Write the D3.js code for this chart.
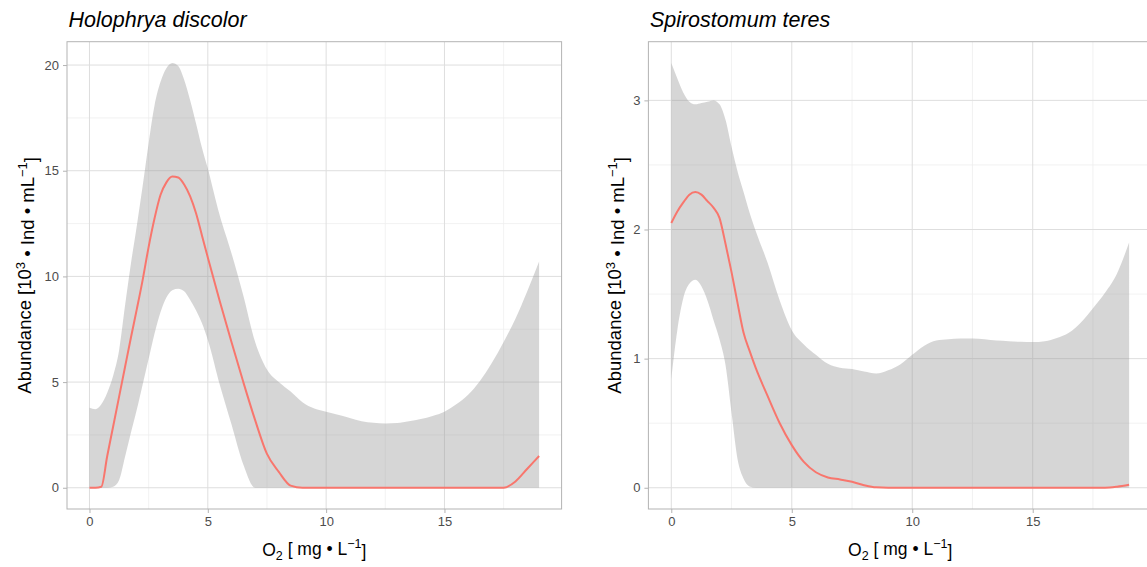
<!DOCTYPE html>
<html>
<head>
<meta charset="utf-8">
<script src="https://cdn.jsdelivr.net/npm/d3@7"></script>
<style>
  body { margin: 0; background: #fff; }
  text { font-family: "Liberation Sans", Arial, Helvetica, sans-serif; }
</style>
</head>
<body>
<div id="chart"></div>
<script>
// values (loess fit + confidence band per species)
const holoO2 = [0, 0.25, 0.5, 0.75, 1, 1.25, 1.5, 1.75, 2, 2.25, 2.5, 2.75, 3, 3.25, 3.5, 3.75, 4, 4.25, 4.5, 4.75,
  5, 5.5, 6, 6.5, 7, 7.5, 8, 8.5, 9, 9.5, 10, 10.5, 11, 11.5, 12, 12.5, 13, 13.5, 14, 14.5,
  15, 15.5, 16, 16.5, 17, 17.5, 18, 18.5, 19];
const holoFit = [0, 0, 0.05, 1.5, 2.9, 4.3, 5.7, 7.1, 8.45, 9.85, 11.4, 12.75, 13.85, 14.45, 14.73, 14.68, 14.35, 13.8, 13.0, 11.95,
  10.9, 8.85, 6.9, 5.0, 3.2, 1.6, 0.75, 0.1, 0, 0, 0, 0, 0, 0, 0, 0, 0, 0, 0, 0,
  0, 0, 0, 0, 0, 0, 0.3, 0.9, 1.5];
const holoLow = [0, 0, 0, 0, 0.05, 0.35, 1.45, 2.6, 3.7, 4.9, 6.1, 7.3, 8.3, 9.0, 9.35, 9.42, 9.3, 8.9, 8.4, 7.8,
  7.0, 4.9, 3.0, 1.1, 0, 0, 0, 0, 0, 0, 0, 0, 0, 0, 0, 0, 0, 0, 0, 0,
  0, 0, 0, 0, 0, 0, 0, 0, 0];
const holoHigh = [3.79, 3.72, 3.95, 4.5, 5.3, 6.5, 8.6, 10.6, 12.4, 14.3, 16.3, 18.1, 19.2, 19.85, 20.1, 19.95, 19.3, 18.35, 17.25, 16.1,
  15.1, 12.9, 11.1, 9.1, 6.9, 5.6, 5.0, 4.55, 4.05, 3.75, 3.6, 3.45, 3.3, 3.15, 3.07, 3.04, 3.06, 3.15, 3.25, 3.4,
  3.6, 3.95, 4.4, 5.05, 5.9, 6.9, 8.0, 9.3, 10.7];

const spiroO2 = [0, 0.25, 0.5, 0.75, 1, 1.25, 1.5, 1.75, 2, 2.25, 2.5, 2.75, 3, 3.25, 3.5, 4, 4.5, 5, 5.5, 6,
  6.5, 7, 7.5, 8, 8.5, 9, 9.5, 10, 10.5, 11, 11.5, 12, 12.5, 13, 13.5, 14, 14.5, 15, 15.5, 16,
  16.5, 17, 17.5, 18, 18.5, 19];
const spiroFit = [2.05, 2.14, 2.21, 2.27, 2.29, 2.27, 2.22, 2.17, 2.09, 1.89, 1.67, 1.43, 1.2, 1.06, 0.93, 0.71, 0.5, 0.33, 0.2, 0.12,
  0.08, 0.064, 0.046, 0.02, 0.003, 0, 0, 0, 0, 0, 0, 0, 0, 0, 0, 0, 0, 0, 0, 0,
  0, 0, 0, 0, 0.008, 0.023];
const spiroLow = [0.84, 1.22, 1.47, 1.58, 1.61, 1.56, 1.45, 1.3, 1.15, 0.95, 0.58, 0.22, 0.07, 0.01, 0, 0, 0, 0, 0, 0,
  0, 0, 0, 0, 0, 0, 0, 0, 0, 0, 0, 0, 0, 0, 0, 0, 0, 0, 0, 0,
  0, 0, 0, 0, 0, 0];
const spiroHigh = [3.29, 3.17, 3.06, 2.99, 2.97, 2.98, 2.99, 3.0, 2.97, 2.85, 2.64, 2.45, 2.29, 2.13, 1.99, 1.74, 1.45, 1.22, 1.11, 1.03,
  0.96, 0.93, 0.92, 0.9, 0.885, 0.91, 0.955, 1.03, 1.1, 1.14, 1.15, 1.155, 1.155, 1.15, 1.14, 1.135, 1.13, 1.128, 1.135, 1.16,
  1.2, 1.28, 1.39, 1.51, 1.66, 1.9];

const xTicks = [0, 5, 10, 15];
const xMinor = [2.5, 7.5, 12.5, 17.5];
const holoYTicks = [0, 5, 10, 15, 20];
const holoYMinor = [2.5, 7.5, 12.5, 17.5];
const spiroYTicks = [0, 1, 2, 3];
const spiroYMinor = [0.5, 1.5, 2.5];
const speciesNames = ["Holophrya discolor", "Spirostomum teres"];

var svg = d3.select("#chart")
  .append("svg")
    .attr("width", 1147)
    .attr("height", 567);

function drawPanel(idx, box, o2, fit, low, high, yTicks, yMinor, yTitleX) {
  var g = svg.append("g");

  // ggplot style 5% expansion on both scales
  var xExt = d3.extent(o2);
  var xPad = (xExt[1] - xExt[0]) * 0.05;
  var x = d3.scaleLinear()
    .domain([xExt[0] - xPad, xExt[1] + xPad])
    .range([box.left, box.right]);

  var yMax = d3.max(high);
  var yPad = yMax * 0.05;
  var y = d3.scaleLinear()
    .domain([0 - yPad, yMax + yPad])
    .range([box.bottom, box.top]);

  var clipId = "clip" + idx;
  svg.append("clipPath").attr("id", clipId)
    .append("rect")
      .attr("x", box.left).attr("y", box.top)
      .attr("width", box.right - box.left).attr("height", box.bottom - box.top);

  var inner = g.append("g").attr("clip-path", "url(#" + clipId + ")");

  // minor grid
  inner.selectAll(".vminor").data(xMinor).enter().append("line")
    .attr("x1", d => x(d)).attr("x2", d => x(d))
    .attr("y1", box.top).attr("y2", box.bottom)
    .attr("stroke", "#efefef").attr("stroke-width", 0.8);
  inner.selectAll(".hminor").data(yMinor).enter().append("line")
    .attr("x1", box.left).attr("x2", box.right)
    .attr("y1", d => y(d)).attr("y2", d => y(d))
    .attr("stroke", "#efefef").attr("stroke-width", 0.8);

  // major grid
  inner.selectAll(".vmajor").data(xTicks).enter().append("line")
    .attr("x1", d => x(d)).attr("x2", d => x(d))
    .attr("y1", box.top).attr("y2", box.bottom)
    .attr("stroke", "#dedede").attr("stroke-width", 1);
  inner.selectAll(".hmajor").data(yTicks).enter().append("line")
    .attr("x1", box.left).attr("x2", box.right)
    .attr("y1", d => y(d)).attr("y2", d => y(d))
    .attr("stroke", "#dedede").attr("stroke-width", 1);

  var idxs = d3.range(o2.length);

  // confidence band
  var band = d3.area()
    .x(i => x(o2[i]))
    .y0(i => y(low[i]))
    .y1(i => y(high[i]))
    .curve(d3.curveMonotoneX);
  inner.append("path")
    .datum(idxs)
    .attr("d", band)
    .attr("fill", "#999999")
    .attr("fill-opacity", 0.4);

  // fitted line
  var line = d3.line()
    .x(i => x(o2[i]))
    .y(i => y(fit[i]))
    .curve(d3.curveMonotoneX);
  inner.append("path")
    .datum(idxs)
    .attr("d", line)
    .attr("fill", "none")
    .attr("stroke", "#F8766D")
    .attr("stroke-width", 2);

  // panel border
  g.append("rect")
    .attr("x", box.left).attr("y", box.top)
    .attr("width", box.right - box.left).attr("height", box.bottom - box.top)
    .attr("fill", "none")
    .attr("stroke", "#b3b3b3")
    .attr("stroke-width", 1);

  // axes
  var yAxis = g.append("g")
    .attr("transform", "translate(" + box.left + ",0)")
    .call(d3.axisLeft(y).tickValues(yTicks).tickFormat(d3.format("~g")).tickSize(4).tickPadding(4));
  var xAxis = g.append("g")
    .attr("transform", "translate(0," + box.bottom + ")")
    .call(d3.axisBottom(x).tickValues(xTicks).tickFormat(d3.format("~g")).tickSize(4).tickPadding(4));

  [yAxis, xAxis].forEach(function (ax) {
    ax.select(".domain").remove();
    ax.selectAll(".tick line").attr("stroke", "#b3b3b3");
    ax.selectAll(".tick text")
      .attr("fill", "#4d4d4d")
      .style("font-size", "13px")
      .style("font-family", "'Liberation Sans', Arial, sans-serif");
  });

  // title
  g.append("text")
    .attr("x", box.left + 1.5)
    .attr("y", 27)
    .style("font-size", "21.5px")
    .style("font-style", "italic")
    .attr("fill", "#000")
    .text(speciesNames[idx]);

  // x axis title: O2 [ mg • L^-1 ]
  var xt = g.append("text")
    .attr("x", (box.left + box.right) / 2)
    .attr("y", 556)
    .attr("text-anchor", "middle")
    .style("font-size", "17.5px")
    .attr("fill", "#000");
  xt.append("tspan").text("O");
  xt.append("tspan").attr("dy", "0.3em").style("font-size", "12.5px").text("2");
  xt.append("tspan").attr("dy", "-0.3em").text(" [ mg • L");
  xt.append("tspan").attr("dy", "-0.5em").style("font-size", "12.5px").text("\u22121");
  xt.append("tspan").attr("dy", "0.5em").text("]");

  // y axis title: Abundance [10^3 • Ind • mL^-1]
  var yc = (box.top + box.bottom) / 2;
  var yt = g.append("text")
    .attr("transform", "translate(" + yTitleX + "," + yc + ") rotate(-90)")
    .attr("text-anchor", "middle")
    .style("font-size", "18.5px")
    .attr("fill", "#000");
  yt.append("tspan").text("Abundance [10");
  yt.append("tspan").attr("dy", "-0.5em").style("font-size", "13px").text("3");
  yt.append("tspan").attr("dy", "0.5em").text(" • Ind • mL");
  yt.append("tspan").attr("dy", "-0.5em").style("font-size", "13px").text("\u22121");
  yt.append("tspan").attr("dy", "0.5em").text("]");
}

drawPanel(0, {left: 67, right: 561.6, top: 41.7, bottom: 509},
  holoO2, holoFit, holoLow, holoHigh, holoYTicks, holoYMinor, 31);
drawPanel(1, {left: 648.4, right: 1152, top: 41.7, bottom: 509},
  spiroO2, spiroFit, spiroLow, spiroHigh, spiroYTicks, spiroYMinor, 621);
</script>
</body>
</html>
